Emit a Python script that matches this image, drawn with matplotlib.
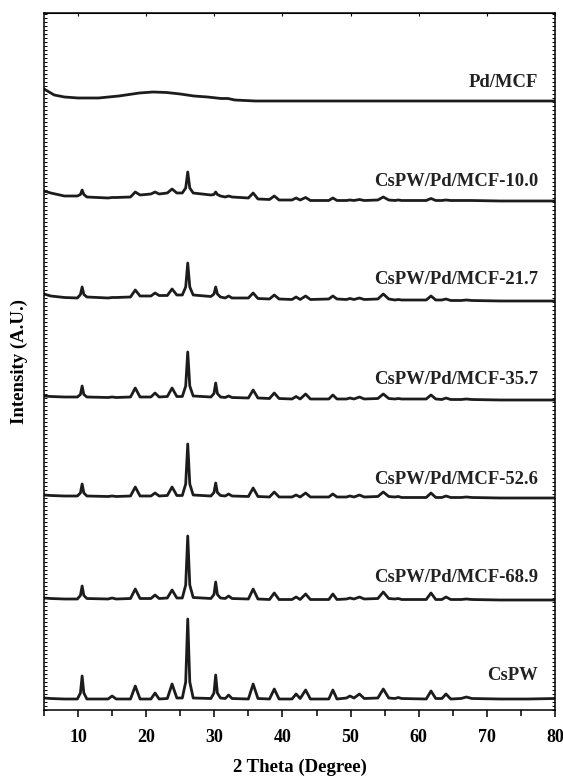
import matplotlib
matplotlib.use("Agg")
import matplotlib.pyplot as plt
from matplotlib.ticker import MultipleLocator, NullFormatter

plt.rcParams["font.family"] = ["Liberation Serif", "DejaVu Serif"]
plt.rcParams["font.weight"] = "bold"

# shared 2-theta grid for the CsPW-containing samples (peak foot / apex / foot)
two_theta = [5, 6, 8, 9.9, 10.35, 10.6, 10.85, 11.3, 14.4, 15.0, 15.6, 17.7, 18.4, 19.1,
             20.7, 21.3, 21.9, 23.1, 23.8, 24.5, 25.3, 25.8, 26.1, 26.4, 26.9,
             29.5, 29.95, 30.2, 30.45, 30.9,
             31.6, 32.1, 32.6, 35.0, 35.7, 36.4, 38.1, 38.8, 39.5, 41.4, 42.0, 42.6,
             43.4, 44.1, 46.8, 47.4, 48.0, 49.4, 49.9, 50.5, 51.3, 52.0, 54.0, 54.8,
             55.6, 56.5, 57.0, 57.5, 61.1, 61.8, 62.5, 63.4, 64.0, 64.7, 66.2, 67.0,
             67.8, 72.0, 76.0, 80.0]

# intensities (a.u.), relative to each trace's flat tail
cspw = [1, 0.5, 0, 0, 6, 23, 6, 0, 0, 3, 0, 0, 13, 0,
        0, 6, 0, 0.5, 15, 1, 1, 17, 80, 17, 1,
        0.5, 6, 24, 6, 1,
        0.5, 4, 0.5, 0, 15, 0.5, 0, 10, 0, 0, 5, 0.5,
        9, 0, 0, 9, 0, 1, 3, 1, 5, 0.5, 1, 10,
        1, 0.5, 1.5, 0.5, 0, 8, 0.5, 0.5, 5, 0, 0.5, 2,
        0.5, 0, 0, 0.5]
mcf_68_9 = [2, 1.5, 1, 1, 4.5, 14, 4.5, 1.5, 1, 2, 1, 1.5, 11, 1.5,
            1.5, 5, 1.5, 2, 10, 2, 2, 15, 64, 15, 2.5,
            1.5, 5.5, 18, 5.5, 2,
            1.5, 4, 1.5, 1, 11, 1, 0.5, 7, 0.5, 0.5, 3, 0.5,
            6, 0.5, 0.5, 6, 0.5, 1, 2, 1, 3, 1, 1.5, 8,
            1.5, 1, 1.5, 0.5, 0.5, 7, 0.5, 0.5, 3, 0.5, 0.5, 1,
            0.5, 0, 0, 0]
mcf_52_6 = [3, 2.5, 2, 2, 5, 14, 5, 2, 1.5, 2, 1.5, 2, 11, 2,
            2, 5, 2, 2.5, 11, 2.5, 2.5, 14, 54, 14, 3,
            2, 5.5, 15, 5.5, 2.5,
            2, 4, 2, 1.5, 10, 1.5, 1, 6, 1, 1, 3, 1,
            5, 1, 1, 4, 1, 1, 2, 1, 3, 1, 1.5, 6,
            1.5, 1, 1.5, 0.5, 0.5, 5, 0.5, 0.5, 2, 0.5, 0.5, 1,
            0.5, 0, 0, 0]
mcf_35_7 = [4, 3.5, 3, 3, 5.5, 14, 5.5, 3, 2.5, 3, 2.5, 3, 12, 3,
            3, 7, 3, 3.5, 12, 3.5, 3.5, 14, 48, 14, 4,
            3, 6.5, 17, 6.5, 3,
            2.5, 4, 2.5, 2, 10, 2, 1.5, 7, 1.5, 1, 3.5, 1,
            6, 1, 1, 5, 1, 1, 2, 1, 3, 1, 1.5, 6,
            1.5, 1, 1.5, 1, 1, 5, 1, 0.5, 2, 0.5, 0.5, 1,
            0.5, 0, 0, 0]
mcf_21_7 = [7, 5, 3.5, 3, 6.5, 14, 6.5, 4, 3, 3.5, 3.5, 4, 11, 5,
            5, 8, 5.5, 5.5, 12, 6, 6, 14, 38, 14, 6,
            4.5, 7, 14, 7, 4,
            3, 5, 3, 3, 8, 2.5, 2, 6, 2, 1.5, 4, 1.5,
            5, 1.5, 2, 5, 2, 1.5, 2.5, 1.5, 3, 1.5, 2, 7,
            2, 1, 1.5, 1, 1, 5, 1, 1, 2, 0.5, 0.5, 1,
            0.5, 0, 0, 0]
mcf_10_0 = [10, 8, 5, 5, 6.5, 11, 6.5, 4, 3, 3.5, 3.5, 4, 9, 6,
            7, 9, 7, 8, 12, 8, 8, 13, 29, 13, 8,
            6, 6.5, 9, 6.5, 5,
            4, 5, 4, 3, 8, 2, 1.5, 5, 1, 1, 3, 1,
            3.5, 0.5, 0.5, 3, 0.5, 0.5, 1, 0.5, 1.5, 0.5, 1, 4,
            1, 0.5, 1, 0.5, 0.5, 2.5, 0.5, 0.5, 1, 0.5, 0.5, 0.5,
            0.5, 0, 0, 0]

# Pd/MCF is amorphous: its own coarse grid
two_theta_pd = [5, 5.5, 6.5, 8, 10, 13, 16, 19, 21, 23, 25, 27, 29, 31, 32, 33,
                36, 40, 50, 60, 70, 80]
pd_mcf = [12, 10, 6, 4, 3, 3, 5, 8, 9, 8.5, 7, 5, 4, 2.5, 2.5, 1,
          0, 0, 0, 0, 0, 0]

names = ["CsPW", "CsPW/Pd/MCF-68.9", "CsPW/Pd/MCF-52.6", "CsPW/Pd/MCF-35.7",
         "CsPW/Pd/MCF-21.7", "CsPW/Pd/MCF-10.0", "Pd/MCF"]
traces = [cspw, mcf_68_9, mcf_52_6, mcf_35_7, mcf_21_7, mcf_10_0, pd_mcf]

# stacking offsets and label heights (layout, not data)
offsets = [11, 110, 212, 310, 409, 509, 609]
label_y = [35, 133, 230, 330, 430, 528, 627]

fig = plt.figure(figsize=(5.63, 7.78), dpi=100)
ax = fig.add_axes([0.0781, 0.0874, 0.9077, 0.8959])

line_col = "#1c1c1c"
for name, ys, off, ly in zip(names, traces, offsets, label_y):
    xs = two_theta_pd if name == "Pd/MCF" else two_theta
    ax.plot(xs, [v + off for v in ys], color=line_col, lw=2.0,
            solid_joinstyle="round")
    ax.text(77.5, ly, name, ha="right", va="center", fontsize=13.4,
            fontweight="bold", color="#222222")

ax.set_xlim(5, 80)
ax.set_ylim(0, 697)

ax.xaxis.set_major_locator(MultipleLocator(10))
ax.xaxis.set_minor_locator(MultipleLocator(5))
ax.yaxis.set_major_locator(MultipleLocator(20))
ax.yaxis.set_minor_locator(MultipleLocator(4))
ax.yaxis.set_major_formatter(NullFormatter())

ax.tick_params(axis="x", which="major", direction="out", length=5, width=1.1,
               labelsize=13, pad=9)
ax.tick_params(axis="x", which="minor", direction="out", length=4, width=1.1)
ax.tick_params(axis="y", which="both", direction="in", left=True, right=True,
               length=2, width=0.7)
ax.tick_params(axis="y", which="major", length=2.5)
for lab in ax.get_xticklabels():
    lab.set_fontweight("bold")

# top ticks point inward and stay short
ax.secondary_xaxis("top").tick_params(which="both", direction="in", length=2,
                                      labeltop=False)

for sp in ax.spines.values():
    sp.set_linewidth(1.1)

ax.set_xlabel("2 Theta (Degree)", fontsize=13.5, fontweight="bold", labelpad=9)
ax.set_ylabel("Intensity (A.U.)", fontsize=13.5, fontweight="bold", labelpad=8)

fig.savefig("out.png", dpi=100)
